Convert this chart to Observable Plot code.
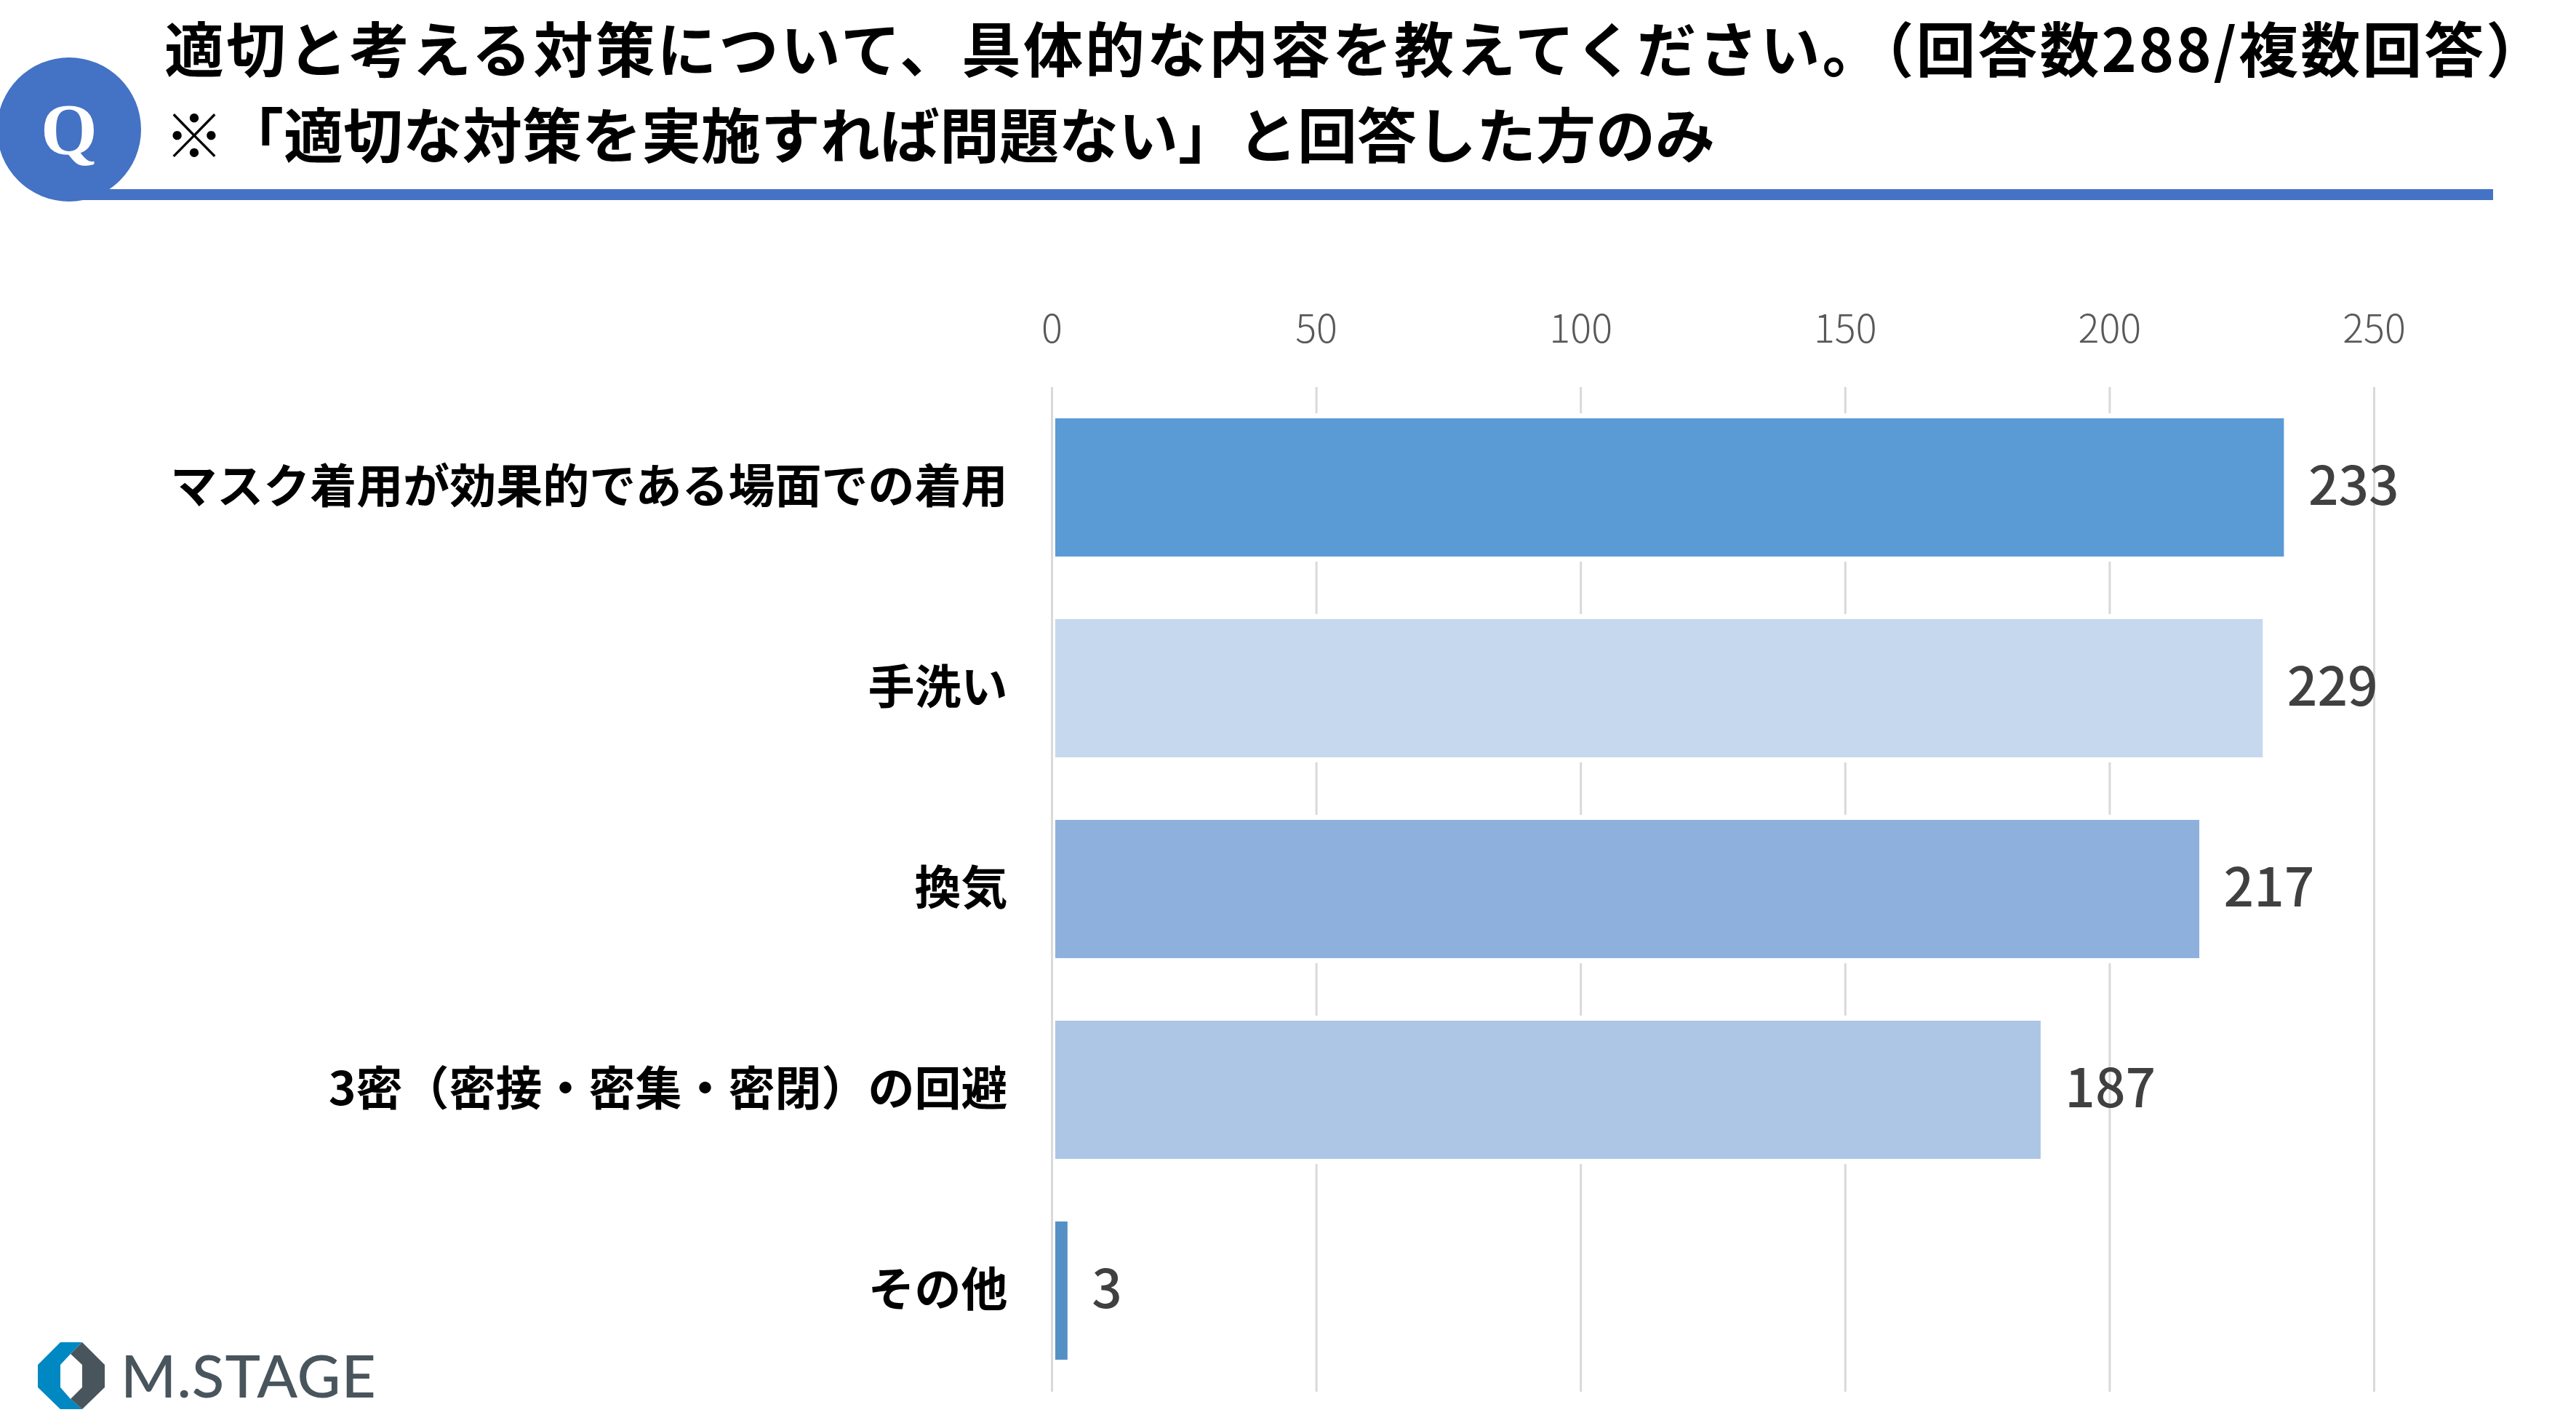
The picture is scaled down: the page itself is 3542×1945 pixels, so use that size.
<!DOCTYPE html>
<html lang="ja">
<head>
<meta charset="utf-8">
<script src="https://cdn.jsdelivr.net/npm/d3@7"></script>
<script src="https://cdn.jsdelivr.net/npm/@observablehq/plot@0.6"></script>
<style>
  html, body { margin: 0; padding: 0; background: #fff; }
  body { width: 3542px; height: 1945px; position: relative; overflow: hidden; font-family: "Noto Sans CJK JP", "Noto Sans", sans-serif; }
  #header { position: relative; width: 3542px; height: 300px; }
  #qline { position: absolute; left: 95px; top: 260px; width: 3333px; height: 15px; background: #4472C4; }
  #qcircle { position: absolute; left: -4px; top: 79px; width: 198px; height: 198px; border-radius: 50%; background: #4472C4;
             color: #fff; font-family: "Liberation Serif", serif; font-weight: 700; font-size: 100px; line-height: 198px; text-align: center; }
  .title { position: absolute; left: 226px; font-weight: 700; font-size: 82px; line-height: 82px; color: #000; white-space: nowrap; }
  #chart { position: absolute; left: 0; top: 300px; }
  #chart svg { display: block; }
  #logo { position: absolute; left: 0; top: 1800px; }
</style>
</head>
<body>
<div id="header">
  <div id="qline"></div>
  <div id="qcircle">Q</div>
  <div class="title" id="t1" style="top:23px; letter-spacing:3px"></div>
  <div class="title" id="t2" style="top:141px"></div>
</div>
<div id="chart"></div>
<svg id="logo" width="600" height="145" viewBox="0 1800 600 145">
  <polygon points="83,1845 113,1845 97,1861 83,1876 83,1907 97,1923 113,1937 83,1937 52,1907 52,1876" fill="#0088C2"/>
  <polygon points="113,1845 144,1876 144,1907 113,1937 97,1923 113,1907 113,1876 97,1861" fill="#49555D"/>
  <text x="166" y="1921" font-family="Lato, 'Noto Sans', sans-serif" font-size="82" font-weight="500" fill="#49555D" letter-spacing="1">M.STAGE</text>
</svg>
<script>
const titleLine1 = "適切と考える対策について、具体的な内容を教えてください。（回答数288/複数回答）";
const titleLine2 = "※「適切な対策を実施すれば問題ない」と回答した方のみ";
const categories = [
  "マスク着用が効果的である場面での着用",
  "手洗い",
  "換気",
  "3密（密接・密集・密閉）の回避",
  "その他"
];
const values = [233, 229, 217, 187, 3];
const barColors = ["#5B9BD5", "#C6D8EE", "#8DB1DC", "#ADC6E5", "#5590C5"];
const xTicks = [0, 50, 100, 150, 200, 250];

document.getElementById("t1").textContent = titleLine1;
document.getElementById("t2").textContent = titleLine2;

const data = categories.map((c, i) => ({category: c, value: values[i], color: barColors[i]}));

const chart = Plot.plot({
  width: 3542,
  height: 1645,
  marginTop: 232,
  marginBottom: 32,
  marginLeft: 1446,
  marginRight: 278,
  style: {fontFamily: "'Noto Sans CJK JP', 'Noto Sans', sans-serif", background: "#fff", overflow: "visible"},
  x: {domain: [0, 250]},
  y: {domain: categories, paddingInner: 0.31, paddingOuter: 0.155},
  marks: [
    Plot.gridX(xTicks, {stroke: "#D9D9D9", strokeOpacity: 1, strokeWidth: 3}),
    Plot.barX(data, {x: "value", y: "category", fill: "#fff", insetTop: -7, insetBottom: -7, insetLeft: 3}),
    Plot.barX(data, {x: "value", y: "category", fill: "color", insetLeft: 5}),
    Plot.text(data, {x: "value", y: "category", text: d => String(d.value), dx: 33, textAnchor: "start",
      fontSize: 73, fill: "#404040", fontWeight: 500}),
    Plot.axisX(xTicks, {anchor: "top", tickSize: 0, tickPadding: 62, fontSize: 54, fill: "#595959", fontWeight: 300, label: null}),
    Plot.axisY({tickSize: 0, tickPadding: 61, fontSize: 64, fontWeight: 700, fill: "#000", label: null})
  ]
});
document.getElementById("chart").appendChild(chart);
</script>
</body>
</html>
